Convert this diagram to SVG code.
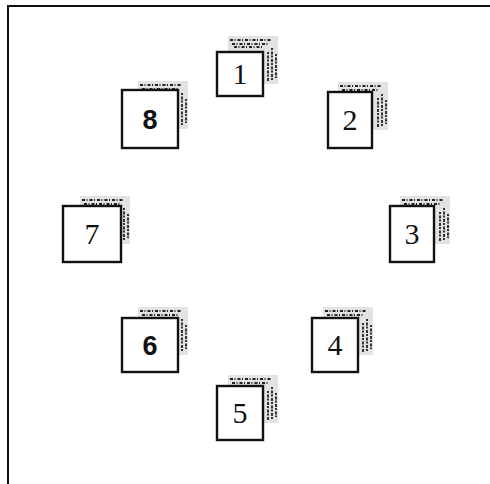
<svg xmlns="http://www.w3.org/2000/svg" xmlns:xlink="http://www.w3.org/1999/xlink" width="490" height="484" viewBox="0 0 490 484">
<style>
.front{fill:#fff;stroke:#111;stroke-width:2.4}
.back{fill:#e2e2e2;stroke:none}
.mark{stroke:#222;stroke-width:2;fill:none;stroke-dasharray:3 1.5 1 2}
.markv{stroke:#333;stroke-width:2;fill:none;stroke-dasharray:2 1.5 3 1}
.lbl{font-family:"Liberation Serif","Times New Roman",serif;font-size:30px;fill:#111;text-anchor:middle}
.bold{font-weight:bold;font-family:"Liberation Sans",Arial,sans-serif;font-size:27px}
</style>
<defs>
<g id="back">
<rect class="back" x="-12" y="-38" width="50" height="48"/>
<path class="mark" d="M-10 -34 H32 M-8 -30 H28 M-6 -27 H22"/>
<path class="markv" d="M28 -22 V8 M32 -26 V6 M36 -20 V4"/>
</g>
</defs>
<g id="frame"><path d="M8 484 V6 H490" fill="none" stroke="#111" stroke-width="2"/></g>
<g id="connectors"></g>
<g id="n1" transform="translate(240,74)"><use xlink:href="#back"/><rect class="front" x="-23" y="-22" width="46" height="44"/><text class="lbl" x="0" y="10">1</text></g>
<g id="n2" transform="translate(350,120)"><use xlink:href="#back"/><rect class="front" x="-22" y="-28" width="44" height="56"/><text class="lbl" x="0" y="10">2</text></g>
<g id="n3" transform="translate(412,234)"><use xlink:href="#back"/><rect class="front" x="-22" y="-28" width="44" height="56"/><text class="lbl" x="0" y="10">3</text></g>
<g id="n4" transform="translate(335,345)"><use xlink:href="#back"/><rect class="front" x="-23" y="-27" width="46" height="54"/><text class="lbl" x="0" y="10">4</text></g>
<g id="n5" transform="translate(240,413)"><use xlink:href="#back"/><rect class="front" x="-23" y="-27" width="46" height="54"/><text class="lbl" x="0" y="10">5</text></g>
<g id="n6" transform="translate(150,345)"><use xlink:href="#back"/><rect class="front" x="-28" y="-27" width="56" height="54"/><text class="lbl bold" x="0" y="10">6</text></g>
<g id="n7" transform="translate(92,234)"><use xlink:href="#back"/><rect class="front" x="-29" y="-28" width="58" height="56"/><text class="lbl" x="0" y="10">7</text></g>
<g id="n8" transform="translate(150,119)"><use xlink:href="#back"/><rect class="front" x="-28" y="-29" width="56" height="58"/><text class="lbl bold" x="0" y="10">8</text></g>
</svg>
